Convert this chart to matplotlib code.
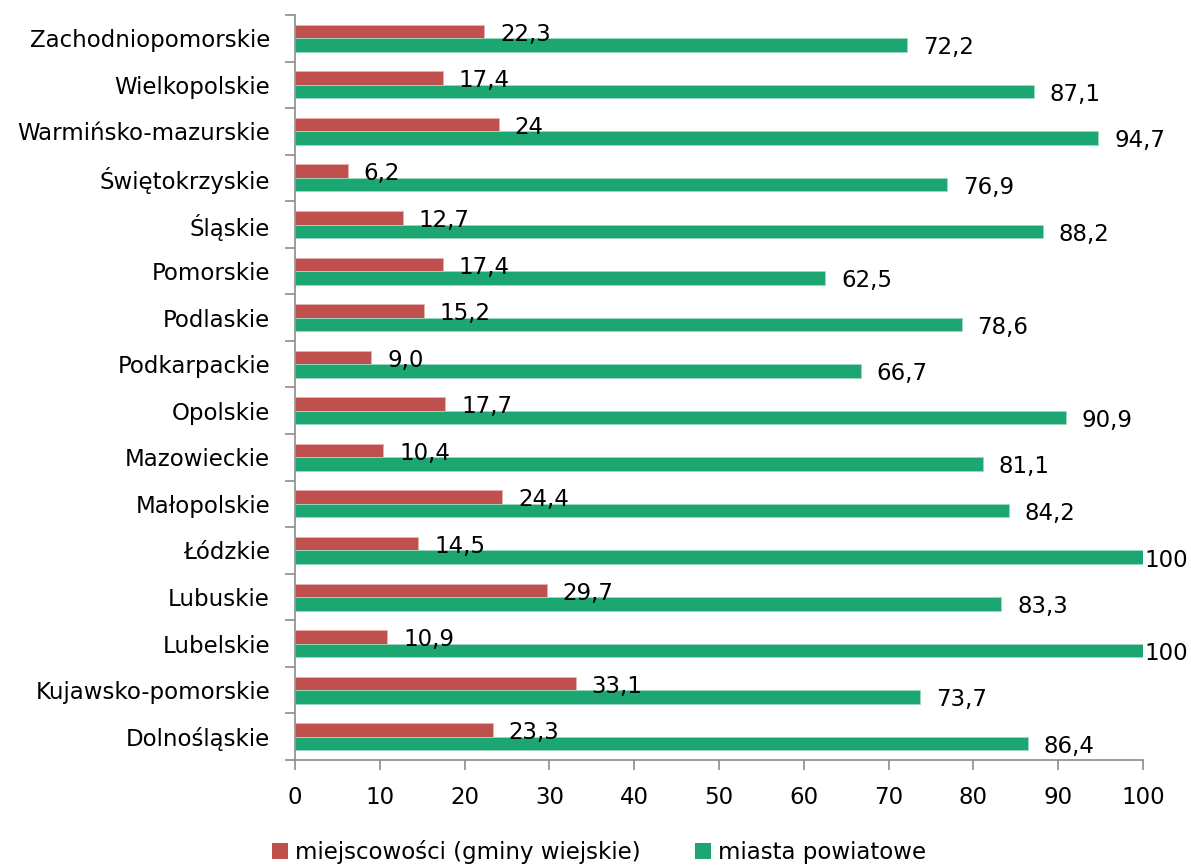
import matplotlib
matplotlib.use("Agg")
import matplotlib.pyplot as plt
import numpy as np
from matplotlib.patches import Patch

plt.rcParams['font.family'] = ['DejaVu Sans']

regions = ["Zachodniopomorskie", "Wielkopolskie", "Warmińsko-mazurskie",
           "Świętokrzyskie", "Śląskie", "Pomorskie", "Podlaskie", "Podkarpackie",
           "Opolskie", "Mazowieckie", "Małopolskie", "Łódzkie", "Lubuskie",
           "Lubelskie", "Kujawsko-pomorskie", "Dolnośląskie"]
rural = [22.3, 17.4, 24, 6.2, 12.7, 17.4, 15.2, 9.0, 17.7, 10.4, 24.4,
         14.5, 29.7, 10.9, 33.1, 23.3]
towns = [72.2, 87.1, 94.7, 76.9, 88.2, 62.5, 78.6, 66.7, 90.9, 81.1, 84.2,
         100, 83.3, 100, 73.7, 86.4]
rural_labels = ["22,3", "17,4", "24", "6,2", "12,7", "17,4", "15,2", "9,0",
                "17,7", "10,4", "24,4", "14,5", "29,7", "10,9", "33,1", "23,3"]
town_labels = ["72,2", "87,1", "94,7", "76,9", "88,2", "62,5", "78,6", "66,7",
               "90,9", "81,1", "84,2", "100", "83,3", "100", "73,7", "86,4"]
series_names = ["miejscowości (gminy wiejskie)", "miasta powiatowe"]
x_ticks = [0, 10, 20, 30, 40, 50, 60, 70, 80, 90, 100]

RED = "#C0504D"
GREEN = "#1BA672"
AXIS = "#8C8C8C"
FS = 16.5

fig = plt.figure(figsize=(11.91, 8.66), dpi=100)
ax = fig.add_axes([0.2477, 0.1224, 0.712, 0.8603])

n = len(regions)
y = np.arange(n)[::-1].astype(float)
h = 0.29

ax.barh(y + h / 2, rural, height=h, color=RED, edgecolor="#E8B0AE", linewidth=0.6)
ax.barh(y - h / 2, towns, height=h, color=GREEN, edgecolor="#9ED9C2", linewidth=0.6)

for yi, v, lab in zip(y, rural, rural_labels):
    ax.annotate(lab, (v, yi + h / 2 - 0.06), xytext=(11.5, 0), textcoords="offset points",
                ha="left", va="center", fontsize=FS, color="black")
for yi, v, lab in zip(y, towns, town_labels):
    off = 0.8 if v >= 100 else 11.5
    ax.annotate(lab, (v, yi - h / 2 - 0.06), xytext=(off, 0), textcoords="offset points",
                ha="left", va="center", fontsize=FS, color="black", annotation_clip=False)

ax.set_xlim(0, 100)
ax.set_ylim(-0.5, n - 0.5)
ax.set_xticks(x_ticks)
ax.set_xticklabels([str(t) for t in x_ticks], fontsize=FS)
ax.set_yticks(y)
ax.set_yticklabels(regions, fontsize=FS)
ax.set_yticks(np.arange(n + 1) - 0.5, minor=True)

ax.tick_params(axis="y", which="major", length=0, pad=18)
ax.tick_params(axis="y", which="minor", length=7, color=AXIS, width=1.2, direction="out")
ax.tick_params(axis="x", which="major", length=7, color=AXIS, width=1.2, direction="out", pad=12)

for s in ["top", "right"]:
    ax.spines[s].set_visible(False)
for s in ["left", "bottom"]:
    ax.spines[s].set_color(AXIS)
    ax.spines[s].set_linewidth(1.2)

handles = [Patch(facecolor=RED, edgecolor="none"), Patch(facecolor=GREEN, edgecolor="none")]
fig.legend(handles, series_names, loc="center", bbox_to_anchor=(0.503, 0.016), ncol=2,
           frameon=False, fontsize=FS, handlelength=0.7, handleheight=0.7,
           handletextpad=0.3, columnspacing=2.4)

fig.savefig("out.png", dpi=100)
